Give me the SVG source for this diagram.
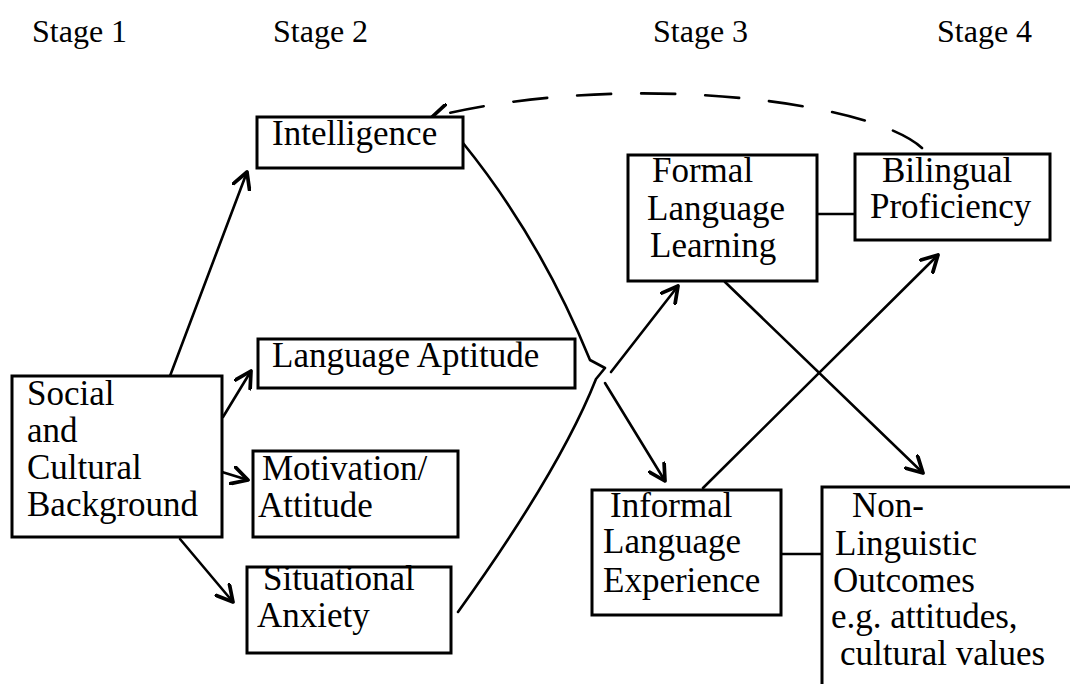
<svg xmlns="http://www.w3.org/2000/svg" width="1070" height="684" viewBox="0 0 1070 684">
<style>
  text { font-family: "Liberation Serif", "Times New Roman", serif; font-size: 35px; fill: #000; }
  .stage { font-size: 32px; }
  .box { fill: #fff; stroke: #000; stroke-width: 3; }
  .con { fill: none; stroke: #000; stroke-width: 2.6; stroke-linecap: round; stroke-linejoin: round; }
  .dash { stroke-dasharray: 34 30; }
</style>
<defs>
  <marker id="arr" markerUnits="userSpaceOnUse" markerWidth="20" markerHeight="20" viewBox="0 0 14 14" refX="12" refY="7" orient="auto">
    <path d="M1,1 L12,7 L1,13" fill="none" stroke="#000" stroke-width="2.6" stroke-linecap="round" stroke-linejoin="round"/>
  </marker>
</defs>
<rect width="1070" height="684" fill="#fff"/>

<g id="stages">
  <text class="stage" x="32" y="42">Stage 1</text>
  <text class="stage" x="273" y="42">Stage 2</text>
  <text class="stage" x="653" y="42">Stage 3</text>
  <text class="stage" x="937" y="42">Stage 4</text>
</g>

<g id="connectors">
  <path class="con" d="M170,376 L247,172" marker-end="url(#arr)"/>
  <path class="con" d="M223,417 L251,371" marker-end="url(#arr)"/>
  <path class="con" d="M222,472 L248,480" marker-end="url(#arr)"/>
  <path class="con" d="M180,539 L233,602" marker-end="url(#arr)"/>
  <path class="con" d="M463,143 Q540,238 590,360 L605,368 L596,379 Q560,470 458,612"/>
  <path class="con" d="M611,372 L678,286" marker-end="url(#arr)"/>
  <path class="con" d="M605,383 L665,481" marker-end="url(#arr)"/>
  <path class="con" d="M817,214 L855,214"/>
  <path class="con" d="M781,554 L822,554"/>
  <path class="con" d="M725,282 L923,473" marker-end="url(#arr)"/>
  <path class="con" d="M703,488 L938,255" marker-end="url(#arr)"/>
  <path class="con dash" d="M922,148 C870,100 620,70 432,117" marker-end="url(#arr)"/>
</g>

<g id="intelligence">
  <rect class="box" x="257" y="117" width="206" height="51"/>
  <text x="272" y="145">Intelligence</text>
</g>
<g id="language-aptitude">
  <rect class="box" x="258" y="339" width="317" height="49"/>
  <text x="272" y="367">Language Aptitude</text>
</g>
<g id="social-cultural">
  <rect class="box" x="12" y="376" width="210" height="161"/>
  <text x="27" y="405">Social</text>
  <text x="27" y="442">and</text>
  <text x="27" y="479">Cultural</text>
  <text x="27" y="516">Background</text>
</g>
<g id="motivation">
  <rect class="box" x="253" y="451" width="205" height="86"/>
  <text x="262" y="480">Motivation/</text>
  <text x="258" y="517">Attitude</text>
</g>
<g id="situational">
  <rect class="box" x="247" y="567" width="204" height="86"/>
  <text x="263" y="590">Situational</text>
  <text x="257" y="627">Anxiety</text>
</g>
<g id="formal">
  <rect class="box" x="628" y="155" width="189" height="126"/>
  <text x="652" y="182">Formal</text>
  <text x="647" y="220">Language</text>
  <text x="650" y="257">Learning</text>
</g>
<g id="bilingual">
  <rect class="box" x="855" y="154" width="195" height="86"/>
  <text x="882" y="182">Bilingual</text>
  <text x="870" y="218">Proficiency</text>
</g>
<g id="informal">
  <rect class="box" x="592" y="490" width="189" height="125"/>
  <text x="610" y="517">Informal</text>
  <text x="603" y="553">Language</text>
  <text x="603" y="592">Experience</text>
</g>
<g id="non-linguistic">
  <rect class="box" x="822" y="487" width="300" height="260"/>
  <text x="852" y="517">Non-</text>
  <text x="835" y="555">Linguistic</text>
  <text x="833" y="592">Outcomes</text>
  <text x="831" y="628">e.g. attitudes,</text>
  <text x="840" y="665">cultural values</text>
</g>
</svg>
